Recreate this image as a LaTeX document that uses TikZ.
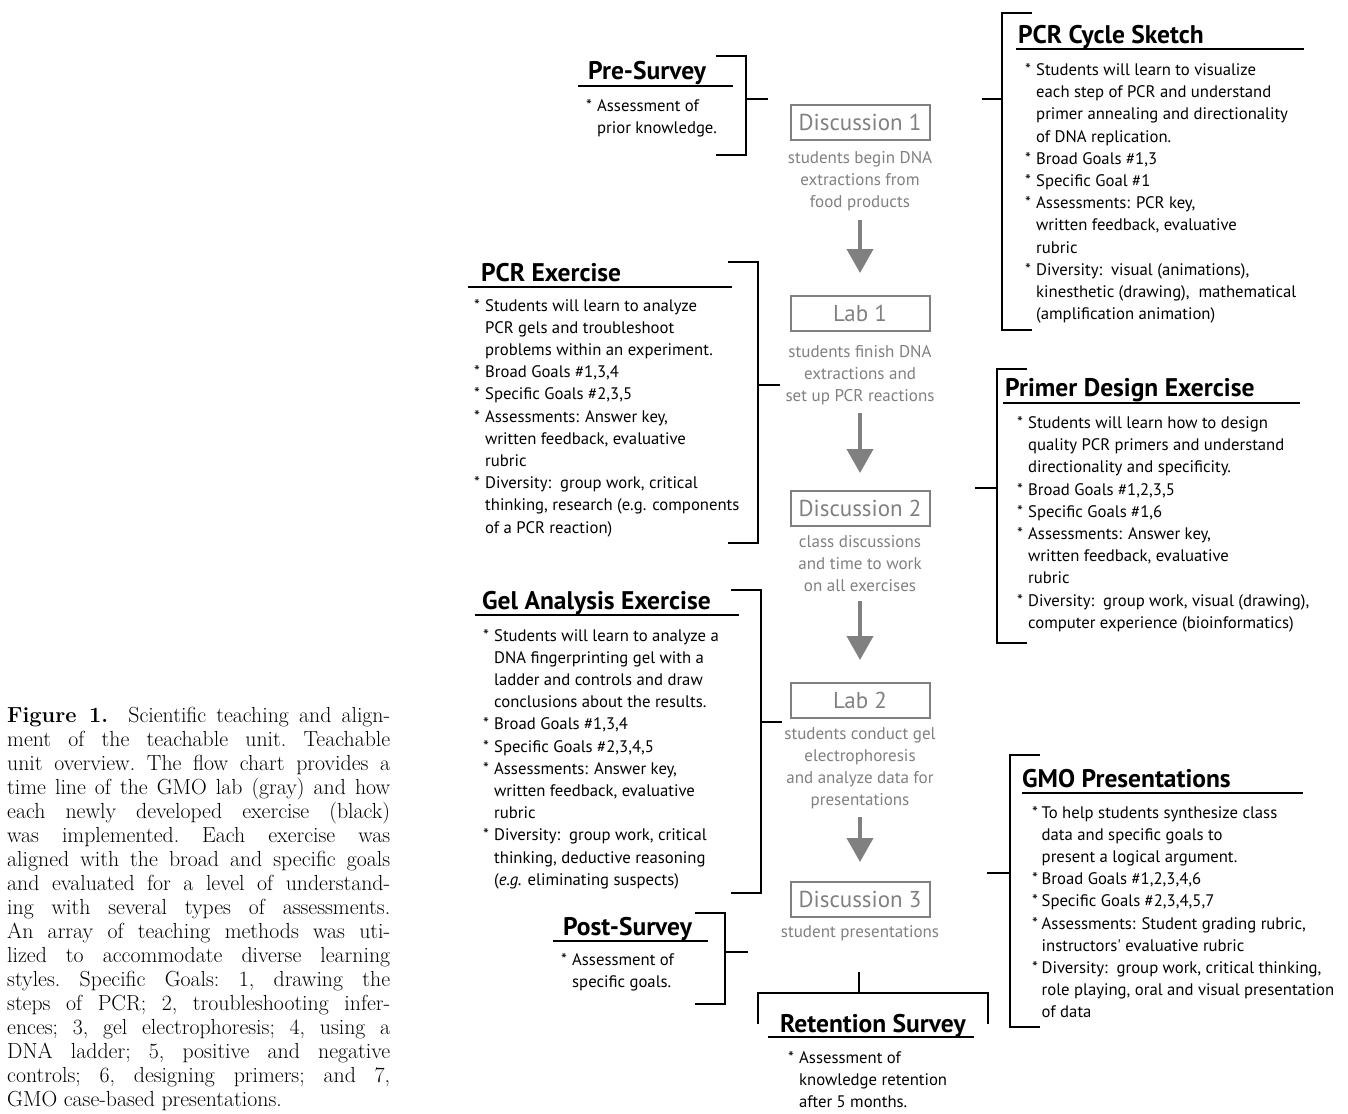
\documentclass[tikz,border=0pt]{standalone}
\usepackage{fontspec}
\newfontfamily\dsans{PT Sans}
\usetikzlibrary{arrows.meta}
\definecolor{grayc}{RGB}{128,128,128}
\newcommand{\bstar}{\makebox[11pt][l]{*}}
\newcommand{\bcont}{\hspace*{11pt}}
\newcommand{\blist}[1]{\parbox[t]{360pt}{\raggedright #1}}
\newcommand{\gtx}[1]{\parbox[t]{220pt}{\centering #1}}
\newcommand{\capl}[1]{\hbox to 383pt{#1}}
\tikzset{
  ttl/.style={font=\dsans\bfseries\fontsize{25.5}{28}\selectfont, anchor=base west, inner sep=0pt},
  body/.style={font=\dsans\fontsize{16.7}{22.2}\selectfont, anchor=base west, inner sep=0pt},
  gbox/.style={draw=grayc, line width=2pt, minimum width=139pt, minimum height=35pt, inner sep=0pt,
    font=\dsans\fontsize{23}{26}\selectfont, text=grayc},
  gtxt/.style={text=grayc, font=\dsans\fontsize{17}{22}\selectfont, anchor=base, inner sep=0pt},
  brk/.style={line width=2pt, black},
  uline/.style={line width=2pt, black},
  garrow/.style={draw=grayc, line width=4pt, -{Triangle[length=24pt,width=26pt]}},
  capt/.style={anchor=base west, inner sep=0pt}
}
\begin{document}
\begin{tikzpicture}[x=1pt,y=1pt]
\useasboundingbox (0,0) rectangle (1348,-1113);

% ---------------- caption ----------------
\node[capt] (caption) at (7,-722) {\parbox[t]{383pt}{\fontsize{21.8}{24}\selectfont\frenchspacing
\capl{\textbf{Figure 1.}\hskip 0.6em plus 0.3em Scientific teaching and align-}
\capl{ment of the teachable unit. Teachable}
\capl{unit overview. The flow chart provides a}
\capl{time line of the GMO lab (gray) and how}
\capl{each newly developed exercise (black)}
\capl{was implemented. Each exercise was}
\capl{aligned with the broad and specific goals}
\capl{and evaluated for a level of understand-}
\capl{ing with several types of assessments.}
\capl{An array of teaching methods was uti-}
\capl{lized to accommodate diverse learning}
\capl{styles. Specific Goals: 1, drawing the}
\capl{steps of PCR; 2, troubleshooting infer-}
\capl{ences; 3, gel electrophoresis; 4, using a}
\capl{DNA ladder; 5, positive and negative}
\capl{controls; 6, designing primers; and 7,}
\hbox{GMO case-based presentations.}}};

% ---------------- centre column (gray) ----------------
\node[gbox] (d1) at (860,-122.5) {Discussion 1};
\node[gtxt] (d1t) at (860,-163) {\gtx{students begin DNA\\extractions from\\food products}};
\node[gbox] (lab1) at (860,-313.5) {Lab 1};
\node[gtxt] (lab1t) at (860,-357) {\gtx{students finish DNA\\extractions and\\set up PCR reactions}};
\node[gbox] (d2) at (860,-508.5) {Discussion 2};
\node[gtxt] (d2t) at (860,-547) {\gtx{class discussions\\and time to work\\on all exercises}};
\node[gbox] (lab2) at (860,-700.5) {Lab 2};
\node[gtxt] (lab2t) at (860,-739) {\gtx{students conduct gel\\electrophoresis\\and analyze data for\\presentations}};
\node[gbox] (d3) at (860,-899.5) {Discussion 3};
\node[gtxt] (d3t) at (860,-937) {\gtx{student presentations}};

\coordinate (a1s) at (860,-220); \coordinate (a1e) at (860,-273);
\coordinate (a2s) at (860,-413); \coordinate (a2e) at (860,-473);
\coordinate (a3s) at (860,-601); \coordinate (a3e) at (860,-660);
\coordinate (a4s) at (860,-817); \coordinate (a4e) at (860,-862);
\draw[garrow] (a1s) -- (a1e);
\draw[garrow] (a2s) -- (a2e);
\draw[garrow] (a3s) -- (a3e);
\draw[garrow] (a4s) -- (a4e);

% ---------------- Pre-Survey ----------------
\node[ttl] (pre) at (588,-80) {Pre-Survey};
\draw[uline] (578,-86) -- (733,-86);
\node[body] (preb) at (586,-111) {\blist{\bstar Assessment of\\ \bcont prior knowledge.}};
\draw[brk] (716,-56) -- (746,-56) -- (746,-155) -- (716,-155);
\draw[brk] (746,-99) -- (768,-99);

% ---------------- PCR Cycle Sketch ----------------
\node[ttl] (pcs) at (1018,-44) {PCR Cycle Sketch};
\draw[uline] (1016,-49.5) -- (1304,-49.5);
\node[body] (pcsb) at (1025,-75.5) {\blist{\bstar Students will learn to visualize\\
\bcont each step of PCR and understand\\
\bcont primer annealing and directionality\\
\bcont of DNA replication.\\
\bstar Broad Goals \#1,3\\
\bstar Specific Goal \#1\\
\bstar Assessments: PCR key,\\
\bcont written feedback, evaluative\\
\bcont rubric\\
\bstar Diversity:\ \ visual (animations),\\
\bcont kinesthetic (drawing),\ \ mathematical\\
\bcont (amplification animation)}};
\draw[brk] (1032,-13) -- (1002,-13) -- (1002,-330) -- (1032,-330);
\draw[brk] (982,-99) -- (1002,-99);

% ---------------- Primer Design Exercise ----------------
\node[ttl] (pde) at (1005,-396) {Primer Design Exercise};
\draw[uline] (1003,-403) -- (1300,-403);
\node[body] (pdeb) at (1017,-428.5) {\blist{\bstar Students will learn how to design\\
\bcont quality PCR primers and understand\\
\bcont directionality and specificity.\\
\bstar Broad Goals \#1,2,3,5\\
\bstar Specific Goals \#1,6\\
\bstar Assessments: Answer key,\\
\bcont written feedback, evaluative\\
\bcont rubric\\
\bstar Diversity:\ \ group work, visual (drawing),\\
\bcont computer experience (bioinformatics)}};
\draw[brk] (1027,-369) -- (997,-369) -- (997,-643) -- (1027,-643);
\draw[brk] (975,-488) -- (997,-488);

% ---------------- PCR Exercise ----------------
\node[ttl] (pex) at (481,-281) {PCR Exercise};
\draw[uline] (468,-287) -- (732,-287);
\node[body] (pexb) at (474,-311) {\blist{\bstar Students will learn to analyze\\
\bcont PCR gels and troubleshoot\\
\bcont problems within an experiment.\\
\bstar Broad Goals \#1,3,4\\
\bstar Specific Goals \#2,3,5\\
\bstar Assessments: Answer key,\\
\bcont written feedback, evaluative\\
\bcont rubric\\
\bstar Diversity:\ \ group work, critical\\
\bcont thinking, research (e.g. components\\
\bcont of a PCR reaction)}};
\draw[brk] (728,-262) -- (758,-262) -- (758,-543) -- (728,-543);
\draw[brk] (758,-385) -- (780,-385);

% ---------------- Gel Analysis Exercise ----------------
\node[ttl] (gel) at (482,-609) {Gel Analysis Exercise};
\draw[uline] (475,-615) -- (739,-615);
\node[body] (gelb) at (483,-641) {\blist{\bstar Students will learn to analyze a\\
\bcont DNA fingerprinting gel with a\\
\bcont ladder and controls and draw\\
\bcont conclusions about the results.\\
\bstar Broad Goals \#1,3,4\\
\bstar Specific Goals \#2,3,4,5\\
\bstar Assessments: Answer key,\\
\bcont written feedback, evaluative\\
\bcont rubric\\
\bstar Diversity:\ \ group work, critical\\
\bcont thinking, deductive reasoning\\
\bcont (\textit{e.g.} eliminating suspects)}};
\draw[brk] (731,-590) -- (761,-590) -- (761,-893) -- (731,-893);
\draw[brk] (761,-722) -- (782,-722);

% ---------------- Post-Survey ----------------
\node[ttl] (post) at (563,-935) {Post-Survey};
\draw[uline] (553,-941) -- (708,-941);
\node[body] (postb) at (561,-965) {\blist{\bstar Assessment of\\ \bcont specific goals.}};
\draw[brk] (695,-913) -- (725,-913) -- (725,-1004) -- (695,-1004);
\draw[brk] (725,-952) -- (748,-952);

% ---------------- GMO Presentations ----------------
\node[ttl] (gmo) at (1022,-787) {GMO Presentations};
\draw[uline] (1022,-793) -- (1303,-793);
\node[body] (gmob) at (1032,-818) {\blist{\makebox[9.5pt][l]{*}To help students synthesize class\\
\hspace*{9.5pt}data and specific goals to\\
\hspace*{9.5pt}present a logical argument.\\
\makebox[9.5pt][l]{*}Broad Goals \#1,2,3,4,6\\
\makebox[9.5pt][l]{*}Specific Goals \#2,3,4,5,7\\
\makebox[9.5pt][l]{*}Assessments: Student grading rubric,\\
\hspace*{9.5pt}instructors' evaluative rubric\\
\makebox[9.5pt][l]{*}Diversity:\ \ group work, critical thinking,\\
\hspace*{9.5pt}role playing, oral and visual presentation\\
\hspace*{9.5pt}of data}};
\draw[brk] (1040,-755) -- (1010,-755) -- (1010,-1027) -- (1040,-1027);
\draw[brk] (987,-873) -- (1010,-873);

% ---------------- Retention Survey ----------------
\coordinate (rtop) at (859,-972);
\coordinate (rjoin) at (859,-993);
\draw[brk] (rtop) -- (rjoin);
\draw[brk] (758,-1024) -- (758,-993) -- (988,-993) -- (988,-1024);
\node[ttl] (ret) at (780,-1032) {Retention Survey};
\draw[uline] (768,-1037) -- (974,-1037);
\node[body] (retb) at (788,-1063) {\blist{\bstar Assessment of\\
\bcont knowledge retention\\
\bcont after 5 months.}};
\end{tikzpicture}
\end{document}
